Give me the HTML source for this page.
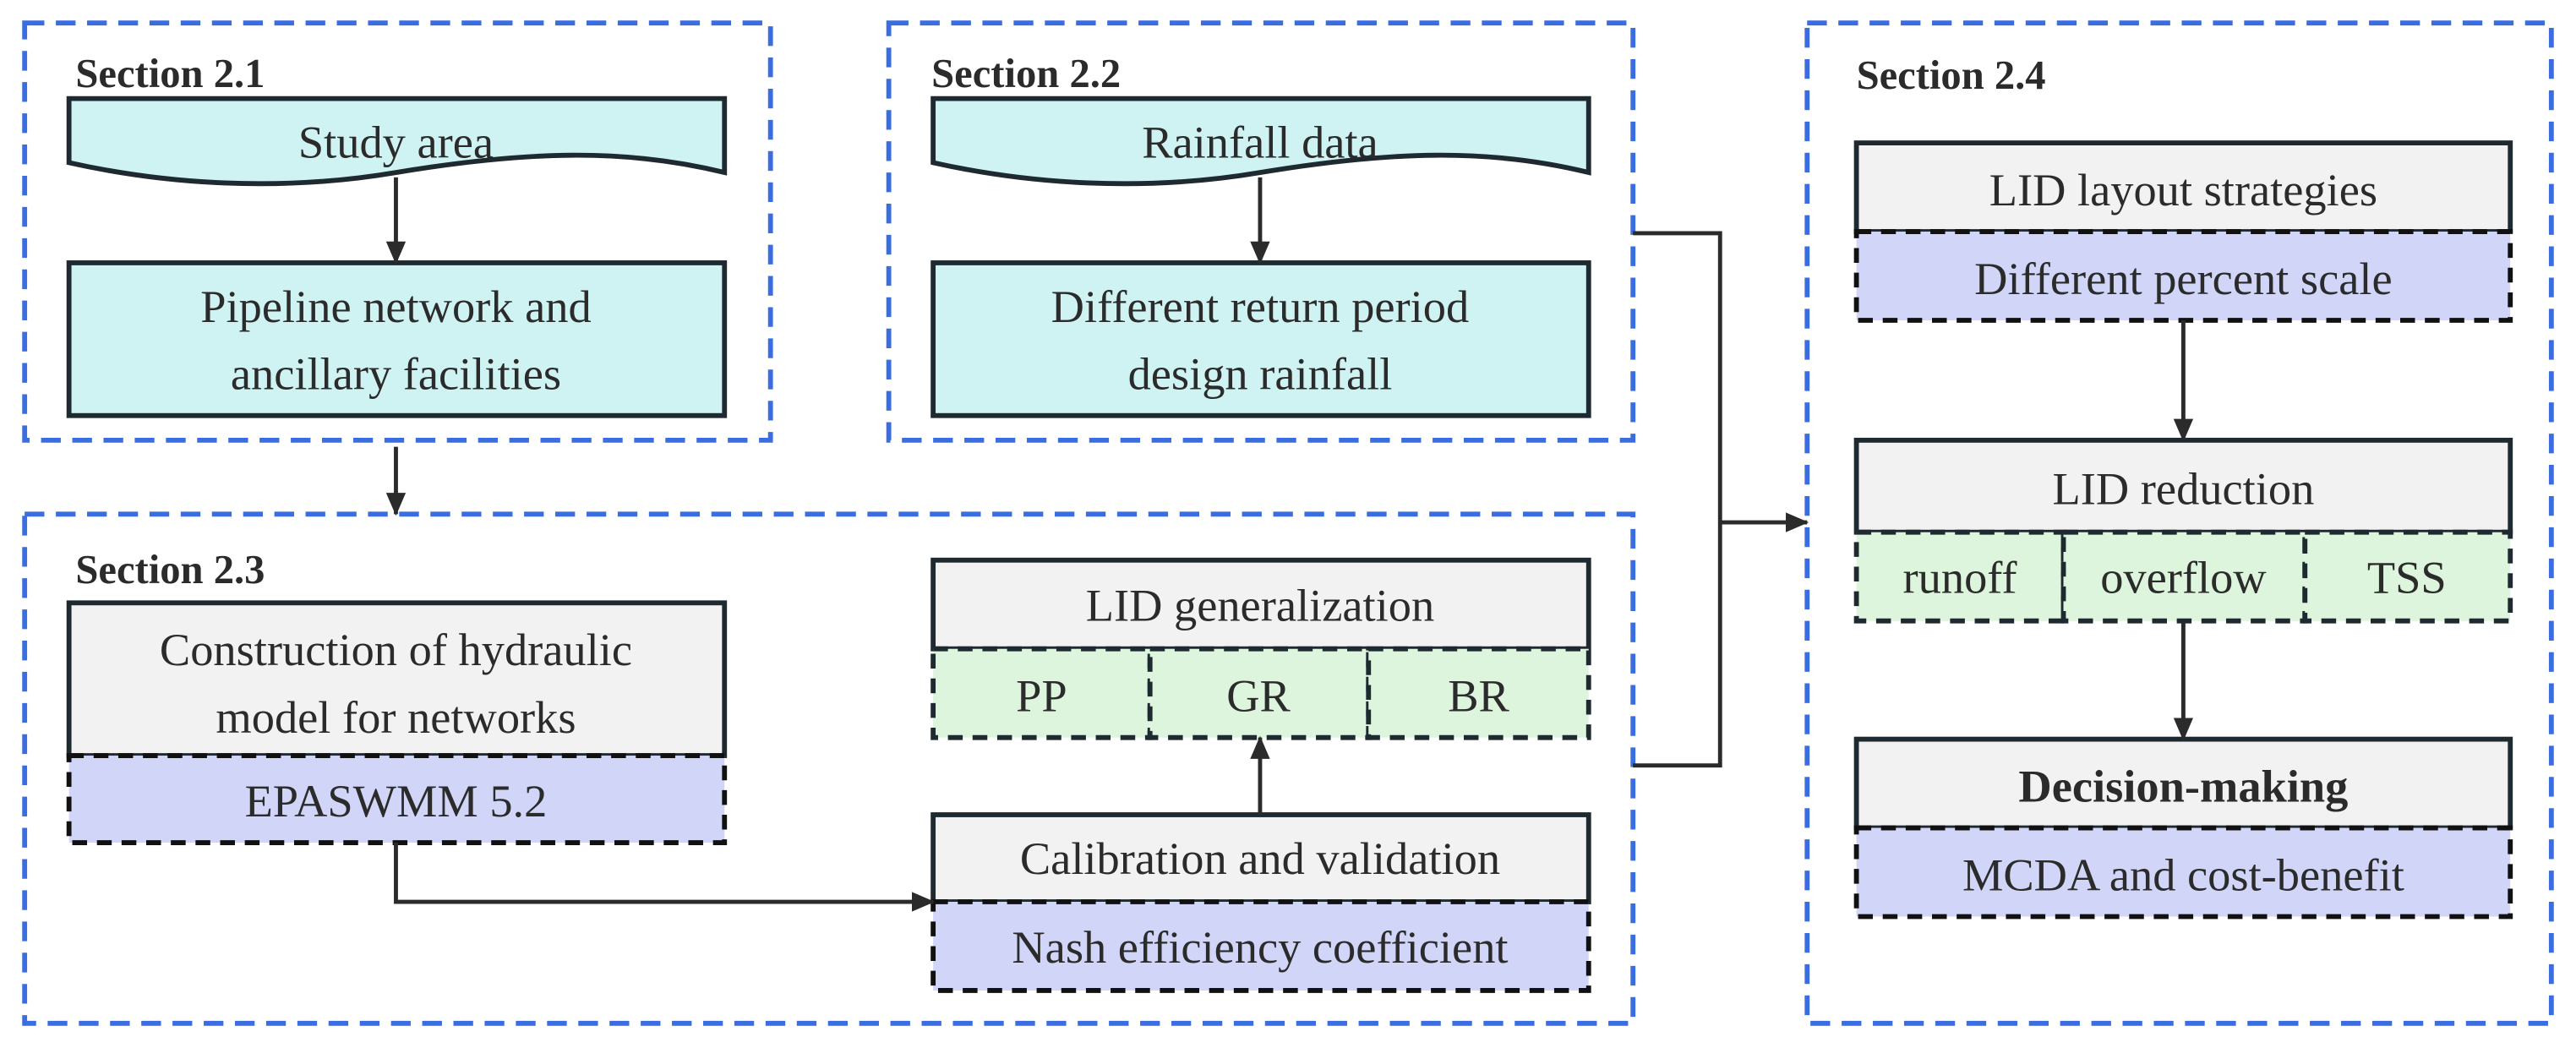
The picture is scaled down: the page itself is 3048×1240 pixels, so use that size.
<!DOCTYPE html>
<html><head><meta charset="utf-8"><style>
html,body{margin:0;padding:0;background:#fff;}
svg{display:block;}
text{font-family:"Liberation Serif","Times New Roman","DejaVu Serif",serif;fill:#2b2b2b;}
</style></head><body>
<svg width="3048" height="1240" viewBox="0 0 1568 638" preserveAspectRatio="none" xmlns="http://www.w3.org/2000/svg" font-family="Liberation Serif, Times New Roman, DejaVu Serif, serif">
<defs>
<marker id="ah" markerWidth="14" markerHeight="14" refX="13" refY="7" orient="auto" markerUnits="userSpaceOnUse">
<path d="M0,1 L14,7 L0,13 Z" fill="#2b2b2b"/></marker>
</defs>
<g fill="none" stroke="#3a6ee0" stroke-width="3" stroke-dasharray="12,7">
<rect x="15" y="14" width="454" height="254"/>
<rect x="541" y="14" width="453" height="254"/>
<rect x="15" y="313" width="979" height="310"/>
<rect x="1100" y="14" width="453" height="609"/>
</g>
<g font-weight="bold" font-size="25">
<text x="46" y="53">Section 2.1</text>
<text x="567" y="53">Section 2.2</text>
<text x="46" y="355">Section 2.3</text>
<text x="1130" y="54">Section 2.4</text>
</g>
<g fill="#cff3f3" stroke="#1e2a30" stroke-width="3">
<path d="M42,60 H441 V105 C380,90 320,92 241,105 C170,117 100,112 42,99 Z"/>
<path d="M568,60 H967 V105 C906,90 846,92 767,105 C696,117 626,112 568,99 Z"/>
<rect x="42" y="160" width="399" height="93"/>
<rect x="568" y="160" width="399" height="93"/>
</g>
<g fill="#f2f2f2" stroke="#1e2a30" stroke-width="3">
<rect x="42" y="367" width="399" height="93"/>
<rect x="568" y="341" width="399" height="54"/>
<rect x="568" y="496" width="399" height="53"/>
<rect x="1130" y="87" width="398" height="54"/>
<rect x="1130" y="268" width="398" height="56"/>
<rect x="1130" y="450" width="398" height="54"/>
</g>
<g fill="#d1d6f9" stroke="#111" stroke-width="3" stroke-dasharray="9,6">
<rect x="42" y="460" width="399" height="53"/>
<rect x="568" y="549" width="399" height="54"/>
<rect x="1130" y="141" width="398" height="54"/>
<rect x="1130" y="504" width="398" height="54"/>
</g>
<g fill="#dcf5dc" stroke="#1e2a30" stroke-width="3" stroke-dasharray="9,6">
<rect x="568" y="395" width="132" height="54"/>
<rect x="700" y="395" width="133" height="54"/>
<rect x="833" y="395" width="134" height="54"/>
<rect x="1130" y="324" width="126" height="54"/>
<rect x="1256" y="324" width="147" height="54"/>
<rect x="1403" y="324" width="125" height="54"/>
</g>
<g fill="none" stroke="#2b2b2b" stroke-width="2.5" marker-end="url(#ah)">
<path d="M241,108 V160"/>
<path d="M767,108 V160"/>
<path d="M241,272 V313"/>
<path d="M241,513 V549 H568"/>
<path d="M767,496 V449"/>
<path d="M1047,318 H1100"/>
<path d="M1329,195 V268"/>
<path d="M1329,378 V450"/>
</g>
<path d="M994,142 H1047 V466 H994" fill="none" stroke="#2b2b2b" stroke-width="2.5"/>
<g font-size="28" text-anchor="middle">
<text x="241" y="96">Study area</text>
<text x="241" y="196">Pipeline network and</text>
<text x="241" y="237">ancillary facilities</text>
<text x="767" y="96">Rainfall data</text>
<text x="767" y="196">Different return period</text>
<text x="767" y="237">design rainfall</text>
<text x="241" y="405">Construction of hydraulic</text>
<text x="241" y="446">model for networks</text>
<text x="241" y="497">EPASWMM 5.2</text>
<text x="767" y="378">LID generalization</text>
<text x="634" y="433">PP</text>
<text x="766" y="433">GR</text>
<text x="900" y="433">BR</text>
<text x="767" y="532">Calibration and validation</text>
<text x="767" y="586">Nash efficiency coefficient</text>
<text x="1329" y="125">LID layout strategies</text>
<text x="1329" y="179">Different percent scale</text>
<text x="1329" y="307">LID reduction</text>
<text x="1193" y="361">runoff</text>
<text x="1329" y="361">overflow</text>
<text x="1465" y="361">TSS</text>
<text x="1329" y="488" font-weight="bold">Decision-making</text>
<text x="1329" y="542">MCDA and cost-benefit</text>
</g>
</svg>
</body></html>
